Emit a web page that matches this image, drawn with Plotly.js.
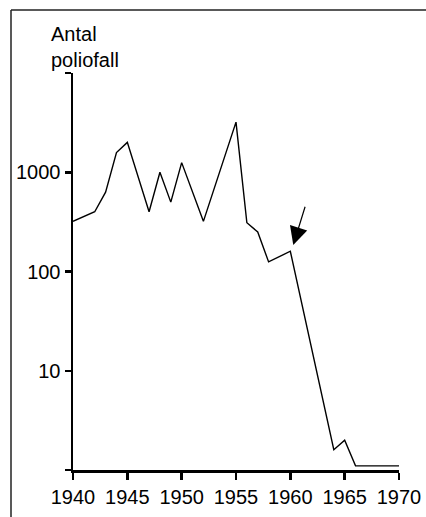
<!DOCTYPE html>
<html>
<head>
<meta charset="utf-8">
<script src="https://cdn.plot.ly/plotly-3.0.1.min.js"></script>
<style>
html,body{margin:0;padding:0;background:#fff;}
#chart{width:426px;height:517px;}
</style>
</head>
<body>
<div id="chart"></div>
<script>
// Data
const years = [1940, 1942, 1943, 1944, 1945, 1947, 1948, 1949, 1950, 1952, 1955, 1956, 1957, 1958, 1960, 1964, 1965, 1966, 1970];
const cases = [320, 400, 630, 1580, 2000, 400, 1000, 500, 1250, 320, 3200, 310, 250, 125, 160, 1.6, 2, 1.1, 1.1];
const xTicks = [1940, 1945, 1950, 1955, 1960, 1965, 1970];
const yTickVals = [1, 10, 100, 1000, 10000];
const yTickText = ["", "10", "100", "1000", ""];
const yTitle = "Antal<br>poliofall";
// arrow: tip and tail (year, cases)
const arrowTip = [1960.27, 185];
const arrowTail = [1961.4, 465];

const font = {family: "Liberation Sans, Arial, sans-serif", size: 20, color: "#000"};

const trace = {
  x: years, y: cases, type: "scatter", mode: "lines",
  line: {color: "#000", width: 1.4}, hoverinfo: "skip"
};

const layout = {
  width: 426, height: 517,
  margin: {l: 73, r: 27, t: 73, b: 47, pad: 0},
  paper_bgcolor: "#fff", plot_bgcolor: "#fff",
  showlegend: false,
  font: font,
  xaxis: {
    range: [1940, 1970], tickvals: xTicks, ticktext: xTicks.map(String),
    showgrid: false, zeroline: false, showline: true, linecolor: "#000", linewidth: 2.5,
    ticks: "outside", ticklen: 7, tickwidth: 2.5, tickcolor: "#000",
    tickfont: font, fixedrange: true
  },
  yaxis: {
    type: "log", range: [0, 4], tickvals: yTickVals, ticktext: yTickText,
    showgrid: false, zeroline: false, showline: true, linecolor: "#000", linewidth: 2.5,
    ticks: "outside", ticklen: 6, tickwidth: 2.5, tickcolor: "#000",
    tickfont: font, fixedrange: true
  },
  shapes: [
    {type: "line", xref: "paper", yref: "paper", x0: (11 - 73) / 326, x1: 1.2, y0: (470 - 10) / 397, y1: (470 - 10) / 397,
     line: {color: "#222", width: 1.5}},
    {type: "line", xref: "paper", yref: "paper", x0: (11 - 73) / 326, x1: (11 - 73) / 326, y0: -0.2, y1: (470 - 10) / 397,
     line: {color: "#222", width: 1.5}}
  ],
  annotations: [
    {text: yTitle, xref: "paper", yref: "paper", x: (49 - 73) / 326, y: (470 - 21) / 397,
     xanchor: "left", yanchor: "top", align: "left", showarrow: false, font: font},
    {x: arrowTip[0], y: Math.log10(arrowTip[1]), ax: arrowTail[0], ay: Math.log10(arrowTail[1]),
     xref: "x", yref: "y", axref: "x", ayref: "y", text: "", showarrow: true,
     arrowhead: 2, arrowsize: 3, arrowwidth: 1.2, arrowcolor: "#000", standoff: 0}
  ]
};

Plotly.newPlot("chart", [trace], layout, {displayModeBar: false, staticPlot: true});
</script>
</body>
</html>
